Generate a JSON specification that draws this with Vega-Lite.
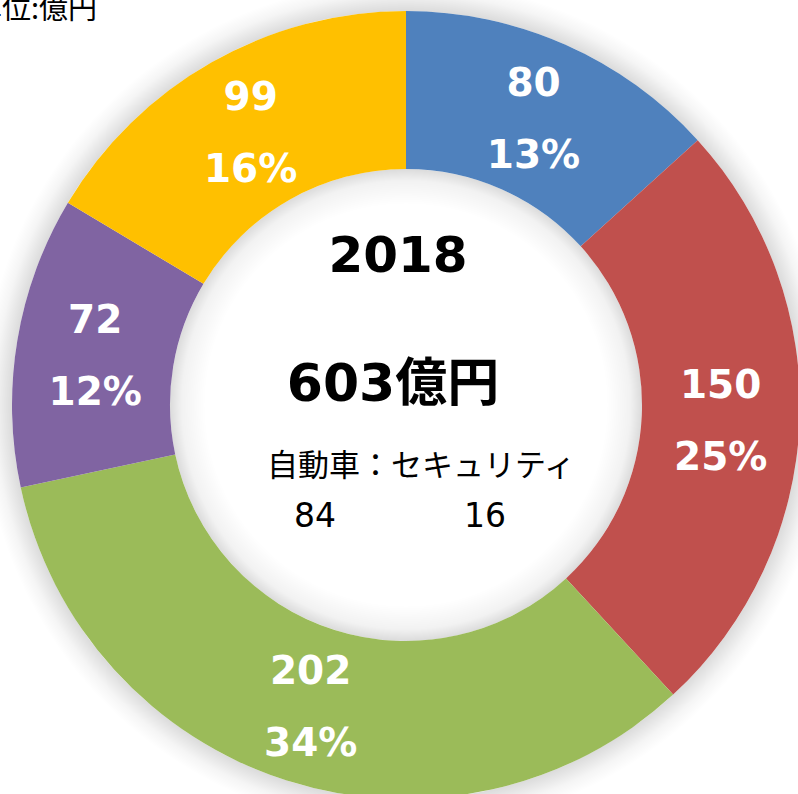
{
  "$schema": "https://vega.github.io/schema/vega-lite/v6.json",
  "width": 812,
  "height": 810,
  "autosize": {"type": "none"},
  "padding": 0,
  "background": "white",
  "config": {"view": {"stroke": null}},
  "data": {"values": [
    {"k": 1, "id": "a", "value": 80, "pct": "13%"},
    {"k": 2, "id": "b", "value": 150, "pct": "25%"},
    {"k": 3, "id": "c", "value": 202, "pct": "34%"},
    {"k": 4, "id": "d", "value": 72, "pct": "12%"},
    {"k": 5, "id": "e", "value": 99, "pct": "16%"}
  ]},
  "layer": [
    {
      "data": {"values": [{}]},
      "mark": {"type": "arc", "theta": 0, "theta2": 6.2832, "outerRadius": 424, "innerRadius": 394,
        "fill": {"gradient": "radial", "x1": 0.5, "y1": 0.5, "r1": 0, "x2": 0.5, "y2": 0.5, "r2": 0.5,
          "stops": [{"offset": 0.929, "color": "rgba(0,0,0,0.14)"}, {"offset": 0.97, "color": "rgba(0,0,0,0.04)"}, {"offset": 1, "color": "rgba(0,0,0,0)"}]}},
      "encoding": {}
    },
    {
      "data": {"values": [{}]},
      "mark": {"type": "arc", "theta": 0, "theta2": 6.2832, "outerRadius": 236, "innerRadius": 200,
        "fill": {"gradient": "radial", "x1": 0.5, "y1": 0.5, "r1": 0, "x2": 0.5, "y2": 0.5, "r2": 0.5,
          "stops": [{"offset": 0.85, "color": "rgba(0,0,0,0)"}, {"offset": 0.95, "color": "rgba(0,0,0,0.05)"}, {"offset": 1, "color": "rgba(0,0,0,0.14)"}]}},
      "encoding": {}
    },
    {
      "mark": {"type": "arc", "outerRadius": 394, "innerRadius": 236},
      "encoding": {
        "theta": {"field": "value", "type": "quantitative", "stack": true},
        "order": {"field": "k", "type": "quantitative"},
        "color": {"field": "id", "type": "nominal", "legend": null,
          "scale": {"domain": ["a", "b", "c", "d", "e"], "range": ["#4F81BD", "#C0504D", "#9BBB59", "#8064A2", "#FFC000"]}}
      }
    },
    {
      "mark": {"type": "text", "radius": 315, "dy": -33, "font": "DejaVu Sans", "fontWeight": "bold", "fontSize": 39, "color": "white", "baseline": "middle", "align": "center"},
      "encoding": {
        "theta": {"field": "value", "type": "quantitative", "stack": true},
        "order": {"field": "k", "type": "quantitative"},
        "text": {"field": "value", "type": "quantitative"}
      }
    },
    {
      "mark": {"type": "text", "radius": 315, "dy": 39, "font": "DejaVu Sans", "fontWeight": "bold", "fontSize": 39, "color": "white", "baseline": "middle", "align": "center"},
      "encoding": {
        "theta": {"field": "value", "type": "quantitative", "stack": true},
        "order": {"field": "k", "type": "quantitative"},
        "text": {"field": "pct", "type": "nominal"}
      }
    },
    {
      "data": {"values": [{}]},
      "mark": {"type": "text", "text": "2018", "dx": -8, "dy": -148, "font": "DejaVu Sans", "fontWeight": "bold", "fontSize": 50, "color": "black", "baseline": "middle", "align": "center"},
      "encoding": {}
    },
    {
      "data": {"values": [{}]},
      "mark": {"type": "text", "text": "603億円", "dx": -13, "dy": -20, "font": "DejaVu Sans, Noto Sans CJK JP", "fontWeight": "bold", "fontSize": 52, "color": "black", "baseline": "middle", "align": "center"},
      "encoding": {}
    },
    {
      "data": {"values": [{}]},
      "mark": {"type": "text", "text": "自動車：セキュリティ", "dx": 15, "dy": 62, "font": "Noto Sans CJK JP", "fontSize": 31, "color": "black", "baseline": "middle", "align": "center"},
      "encoding": {}
    },
    {
      "data": {"values": [{}]},
      "mark": {"type": "text", "text": "84", "dx": -91, "dy": 112, "font": "DejaVu Sans", "fontSize": 33, "color": "black", "baseline": "middle", "align": "center"},
      "encoding": {}
    },
    {
      "data": {"values": [{}]},
      "mark": {"type": "text", "text": "16", "dx": 79, "dy": 112, "font": "DejaVu Sans", "fontSize": 33, "color": "black", "baseline": "middle", "align": "center"},
      "encoding": {}
    },
    {
      "data": {"values": [{}]},
      "mark": {"type": "text", "text": "単位:億円", "dx": -309, "dy": -386, "font": "Noto Sans CJK JP", "fontSize": 29, "color": "black", "baseline": "alphabetic", "align": "right"},
      "encoding": {}
    }
  ]
}
